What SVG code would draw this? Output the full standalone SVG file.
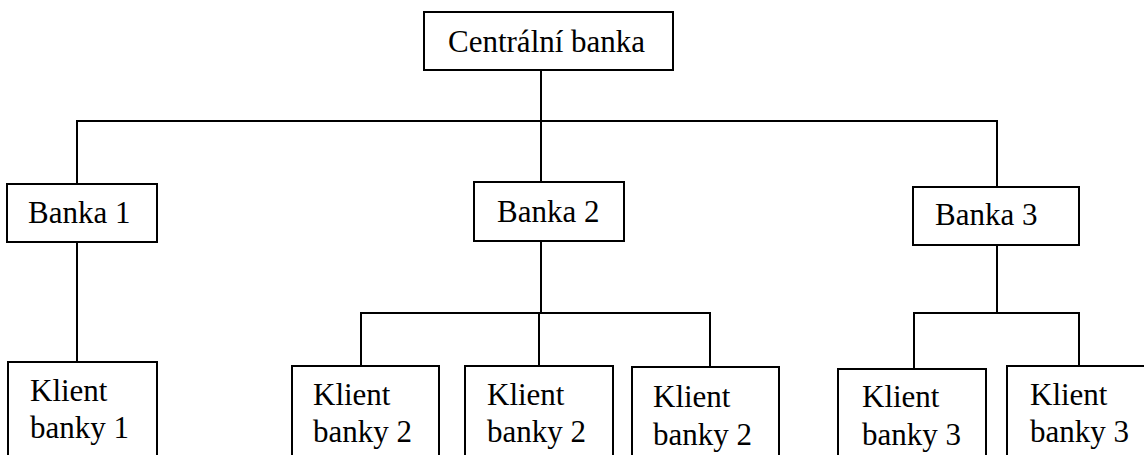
<svg xmlns="http://www.w3.org/2000/svg" width="1144" height="455" viewBox="0 0 1144 455">
<style>
.box{fill:#fff;stroke:#000;stroke-width:2}
.t{font-family:"Liberation Serif","Times New Roman",serif;font-size:31px;fill:#000}
.c{fill:none;stroke:#000;stroke-width:2}
</style>
<rect width="1144" height="455" fill="#fff"/>
<g id="connectors">
<path class="c" d="M541,70V121M76,121H998M77,121V184M541,121V182M997,121V187"/>
<path class="c" d="M77,242V362"/>
<path class="c" d="M541,241V313M360,313H711M361,313V366M539,313V367M710,313V368"/>
<path class="c" d="M997,245V313M913,313H1080M914,313V369M1079,313V366"/>
</g>
<g id="central"><rect class="box" x="424" y="12" width="249" height="58"/><text class="t" x="448" y="52">Centrální banka</text></g>
<g id="banka1"><rect class="box" x="7" y="184" width="150" height="58"/><text class="t" x="28" y="223">Banka 1</text></g>
<g id="banka2"><rect class="box" x="474" y="182" width="150" height="59"/><text class="t" x="497" y="222">Banka 2</text></g>
<g id="banka3"><rect class="box" x="913" y="187" width="166" height="58"/><text class="t" x="935" y="225">Banka 3</text></g>
<g id="klient1"><rect class="box" x="8" y="362" width="149" height="110"/><text class="t" x="30" y="401">Klient</text><text class="t" x="30" y="438">banky 1</text></g>
<g id="klient2a"><rect class="box" x="292" y="366" width="147" height="110"/><text class="t" x="313" y="405">Klient</text><text class="t" x="313" y="442">banky 2</text></g>
<g id="klient2b"><rect class="box" x="465" y="366" width="148" height="110"/><text class="t" x="487" y="405">Klient</text><text class="t" x="487" y="442">banky 2</text></g>
<g id="klient2c"><rect class="box" x="632" y="367" width="147" height="110"/><text class="t" x="653" y="407">Klient</text><text class="t" x="653" y="445">banky 2</text></g>
<g id="klient3a"><rect class="box" x="838" y="369" width="148" height="110"/><text class="t" x="862" y="407">Klient</text><text class="t" x="862" y="445">banky 3</text></g>
<g id="klient3b"><rect class="box" x="1007" y="366" width="150" height="110"/><text class="t" x="1030" y="405">Klient</text><text class="t" x="1030" y="442">banky 3</text></g>
</svg>
